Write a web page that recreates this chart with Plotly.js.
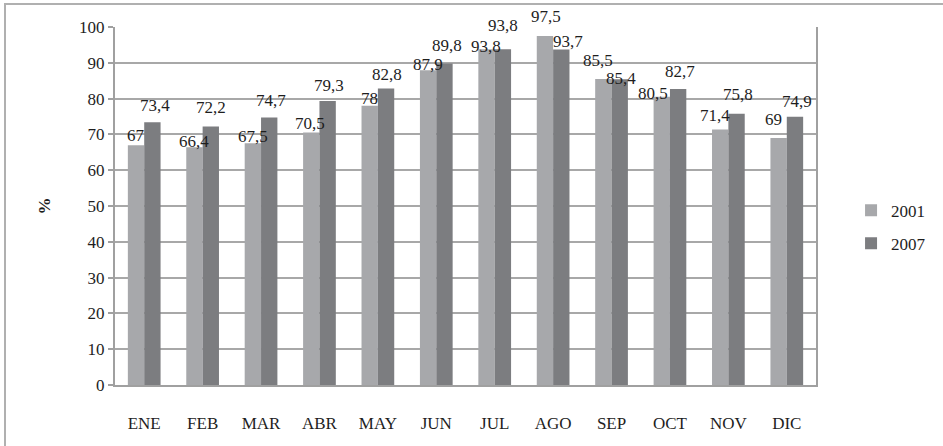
<!DOCTYPE html>
<html><head><meta charset="utf-8">
<script src="https://cdn.plot.ly/plotly-3.0.1.min.js"></script>
<style>
html,body{margin:0;padding:0;background:#fff;overflow:hidden;}
#wrap{position:relative;width:943px;height:446px;overflow:hidden;}
#chart{position:absolute;left:0;top:0;width:943px;height:446px;}
#frame{position:absolute;left:4px;top:3px;width:960px;height:460px;border-top:2px solid #b0b0b0;border-left:2px solid #b0b0b0;pointer-events:none;}
</style></head>
<body><div id="wrap"><div id="chart"></div><div id="frame"></div></div>
<script>
const months = ['ENE','FEB','MAR','ABR','MAY','JUN','JUL','AGO','SEP','OCT','NOV','DIC'];
const v2001 = [67, 66.4, 67.5, 70.5, 78, 87.9, 93.8, 97.5, 85.5, 80.5, 71.4, 69];
const v2007 = [73.4, 72.2, 74.7, 79.3, 82.8, 89.8, 93.8, 93.7, 85.4, 82.7, 75.8, 74.9];
const yTicks = [0,10,20,30,40,50,60,70,80,90,100];

// label nudges (pixels) mimicking the reference's hand-placed data labels
const nudgeX2001 = [0, 0, 0, -1, 0, 0, 0, 1.5, -5, -8, -5, -5];
const nudgeY2001 = [10, 6, 7, 9, 7, 6, 3, 19, 18, 3, 14, 18];
const nudgeX2007 = [2, 0, 1, 1, 1, 2, 0, 6.5, 1, 2, 1.5, 2];
const nudgeY2007 = [17, 19, 17, 16, 14, 18, 24, 8, 1, 17, 19, 15];

const fmt = v => String(v).replace('.', ',');
const font = {family:'Liberation Serif, Times New Roman, serif', size:17, color:'#1e1e1e'};

const traces = [
  {type:'bar', name:'2001', x:months, y:v2001, marker:{color:'#a7a8ab'}, legendgroup:'a'},
  {type:'bar', name:'2007', x:months, y:v2007, marker:{color:'#7c7d80'}, legendgroup:'b'}
];

const half = 8.5; // half of a bar's pixel width: offset of each series within its group
const annotations = [];
months.forEach((m, i) => {
  annotations.push({x:m, y:v2001[i], xref:'x', yref:'y', text:fmt(v2001[i]), showarrow:false,
    xshift:-half + nudgeX2001[i], yshift:nudgeY2001[i], yanchor:'middle', font:font, borderpad:0});
  annotations.push({x:m, y:v2007[i], xref:'x', yref:'y', text:fmt(v2007[i]), showarrow:false,
    xshift:half + nudgeX2007[i], yshift:nudgeY2007[i], yanchor:'middle', font:font, borderpad:0});
});

const layout = {
  width:943, height:446,
  margin:{l:115, r:100, t:27, b:61},
  paper_bgcolor:'#fff', plot_bgcolor:'#fff',
  font:font,
  barmode:'group', bargap:0.44, bargroupgap:0,
  annotations:annotations,
  xaxis:{showgrid:false, showline:true, linecolor:'#a0a0a0', linewidth:2,
         ticks:'', ticklabelstandoff:22, tickfont:font, fixedrange:true},
  yaxis:{range:[0,100], tickvals:yTicks, showgrid:true, gridcolor:'#a8a8a8', gridwidth:2,
         showline:true, linecolor:'#a0a0a0', linewidth:2, mirror:true, zeroline:false,
         ticks:'outside', ticklen:5, tickcolor:'#a0a0a0', tickwidth:2, tickfont:font,
         title:{text:'<b>%</b>', font:font, standoff:24}},
  legend:{x:1.05, y:0.441, yanchor:'middle', xanchor:'left', font:font,
          traceorder:'grouped', tracegroupgap:8, itemwidth:30, bgcolor:'rgba(0,0,0,0)'},
  showlegend:true
};
Plotly.newPlot('chart', traces, layout, {staticPlot:true, displayModeBar:false});
</script></body></html>
